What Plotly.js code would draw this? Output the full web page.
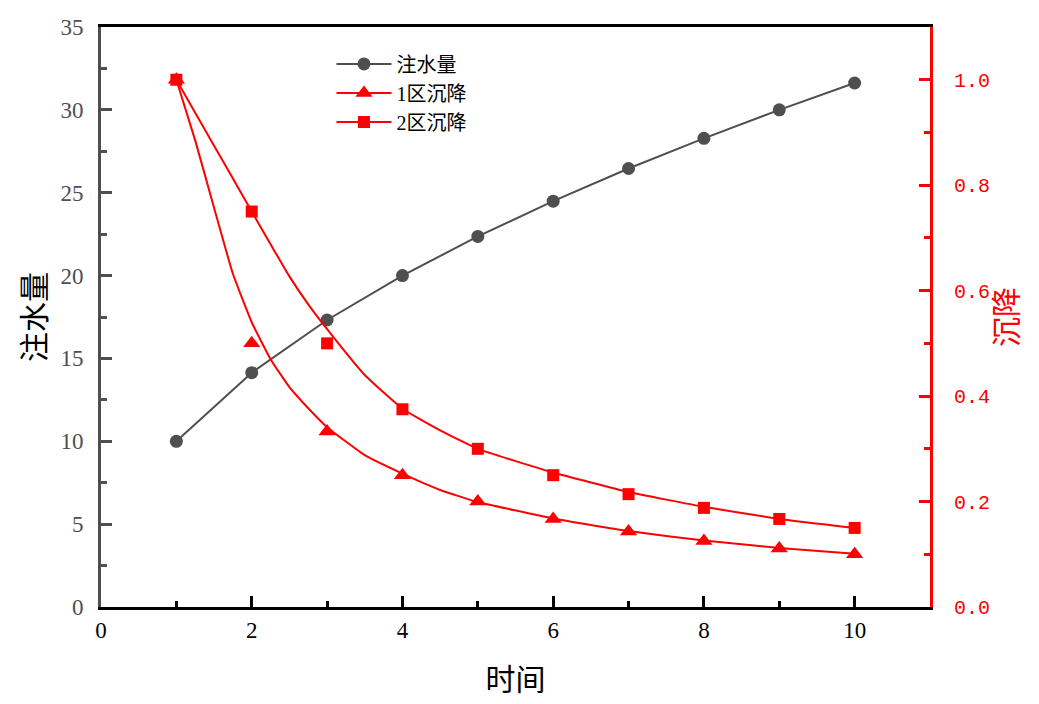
<!DOCTYPE html>
<html>
<head>
<meta charset="utf-8">
<script src="https://cdn.plot.ly/plotly-3.0.1.min.js"></script>
<style>
  html, body { margin: 0; padding: 0; background: #fff; }
  #chart { width: 1039px; height: 704px; }
</style>
</head>
<body>
<div id="chart"></div>
<script>
// measured points
var timeX = [1, 2, 3, 4, 5, 6, 7, 8, 9, 10];
var injection = [10, 14.14, 17.32, 20, 22.36, 24.49, 26.46, 28.28, 30, 31.62];
var settle1 = [1, 0.5, 0.333, 0.25, 0.2, 0.167, 0.143, 0.125, 0.111, 0.1];
var settle2 = [1, 0.75, 0.5, 0.375, 0.3, 0.25, 0.214, 0.188, 0.167, 0.15];

// fitted curves
var fitX = [1, 1.25, 1.5, 1.75, 2, 2.25, 2.5, 2.75, 3, 3.5, 4, 4.5, 5, 6, 7, 8, 9, 10];
var fit1 = [1, 0.885, 0.757, 0.632, 0.54, 0.47, 0.417, 0.377, 0.341, 0.288, 0.253, 0.222, 0.199, 0.168, 0.144, 0.126, 0.112, 0.101];
var fit2 = [1, 0.9375, 0.875, 0.8125, 0.75, 0.688, 0.627, 0.574, 0.527, 0.44, 0.376, 0.335, 0.3, 0.255, 0.218, 0.19, 0.167, 0.15];

var names = ['注水量', '1区沉降', '2区沉降'];

var grey = '#4f4f4f';
var red = '#ff0000';
var serif = 'Liberation Serif, Noto Sans CJK SC, serif';

// markers only, but keep a line in the legend: split points with gaps
function gapped(xs, ys) {
    var gx = [], gy = [];
    for (var i = 0; i < xs.length; i++) {
        gx.push(xs[i], xs[i]);
        gy.push(ys[i], null);
    }
    return {x: gx, y: gy};
}

var g1 = gapped(timeX, settle1);
var g2 = gapped(timeX, settle2);

var traceInj = {
    x: timeX, y: injection,
    mode: 'lines+markers',
    name: names[0],
    line: {color: grey, width: 2},
    marker: {symbol: 'circle', size: 13, color: grey},
    yaxis: 'y'
};

var fitLine1 = {
    x: fitX, y: fit1,
    mode: 'lines',
    line: {color: red, width: 2, shape: 'spline', smoothing: 0.4},
    showlegend: false,
    yaxis: 'y2'
};

var fitLine2 = {
    x: fitX, y: fit2,
    mode: 'lines',
    line: {color: red, width: 2, shape: 'spline', smoothing: 0.4},
    showlegend: false,
    yaxis: 'y2'
};

var pts1 = {
    x: g1.x, y: g1.y,
    mode: 'lines+markers',
    name: names[1],
    connectgaps: false,
    line: {color: red, width: 2},
    marker: {symbol: 'triangle-up', size: 15, color: red},
    yaxis: 'y2'
};

var pts2 = {
    x: g2.x, y: g2.y,
    mode: 'lines+markers',
    name: names[2],
    connectgaps: false,
    line: {color: red, width: 2},
    marker: {symbol: 'square', size: 12, color: red},
    yaxis: 'y2'
};

var layout = {
    width: 1039,
    height: 704,
    margin: {l: 101, r: 109, t: 27, b: 97},
    paper_bgcolor: '#fff',
    plot_bgcolor: '#fff',
    showlegend: true,
    legend: {
        x: 0.278, y: 0.97,
        xanchor: 'left', yanchor: 'top',
        bgcolor: 'rgba(0,0,0,0)',
        itemwidth: 55,
        font: {family: serif, size: 20, color: '#000'},
        tracegroupgap: 0
    },
    xaxis: {
        range: [0, 11],
        tick0: 0, dtick: 2,
        ticks: 'inside', ticklen: 11, tickwidth: 3, tickcolor: '#000',
        minor: {dtick: 1, ticks: 'inside', ticklen: 6, tickwidth: 3, tickcolor: '#000'},
        showline: true, linecolor: '#000', linewidth: 3, mirror: true,
        showgrid: false, zeroline: false,
        tickfont: {family: serif, size: 23, color: '#000'},
        title: {text: '时间', font: {family: serif, size: 30, color: '#000'}, standoff: 28}
    },
    yaxis: {
        range: [0, 35],
        tick0: 0, dtick: 5,
        ticks: 'inside', ticklen: 11, tickwidth: 3, tickcolor: grey,
        minor: {dtick: 2.5, ticks: 'inside', ticklen: 6, tickwidth: 3, tickcolor: grey},
        showline: true, linecolor: grey, linewidth: 3,
        showgrid: false, zeroline: false,
        ticklabelstandoff: 10,
        tickfont: {family: serif, size: 23, color: grey},
        title: {text: '注水量', font: {family: serif, size: 30, color: '#000'}, standoff: 6}
    },
    yaxis2: {
        range: [0, 1.1],
        overlaying: 'y', side: 'right',
        tick0: 0, dtick: 0.2, tickformat: '.1f',
        ticks: 'inside', ticklen: 11, tickwidth: 3, tickcolor: red,
        minor: {dtick: 0.1, ticks: 'inside', ticklen: 6, tickwidth: 3, tickcolor: red},
        showline: true, linecolor: red, linewidth: 3,
        showgrid: false, zeroline: false,
        ticklabelstandoff: 17,
        tickfont: {family: 'Liberation Mono, monospace', size: 20, color: red},
        title: {text: '沉降', font: {family: serif, size: 30, color: red}, standoff: 2}
    }
};

Plotly.newPlot('chart', [traceInj, pts1, pts2, fitLine1, fitLine2], layout, {displayModeBar: false});
</script>
</body>
</html>
